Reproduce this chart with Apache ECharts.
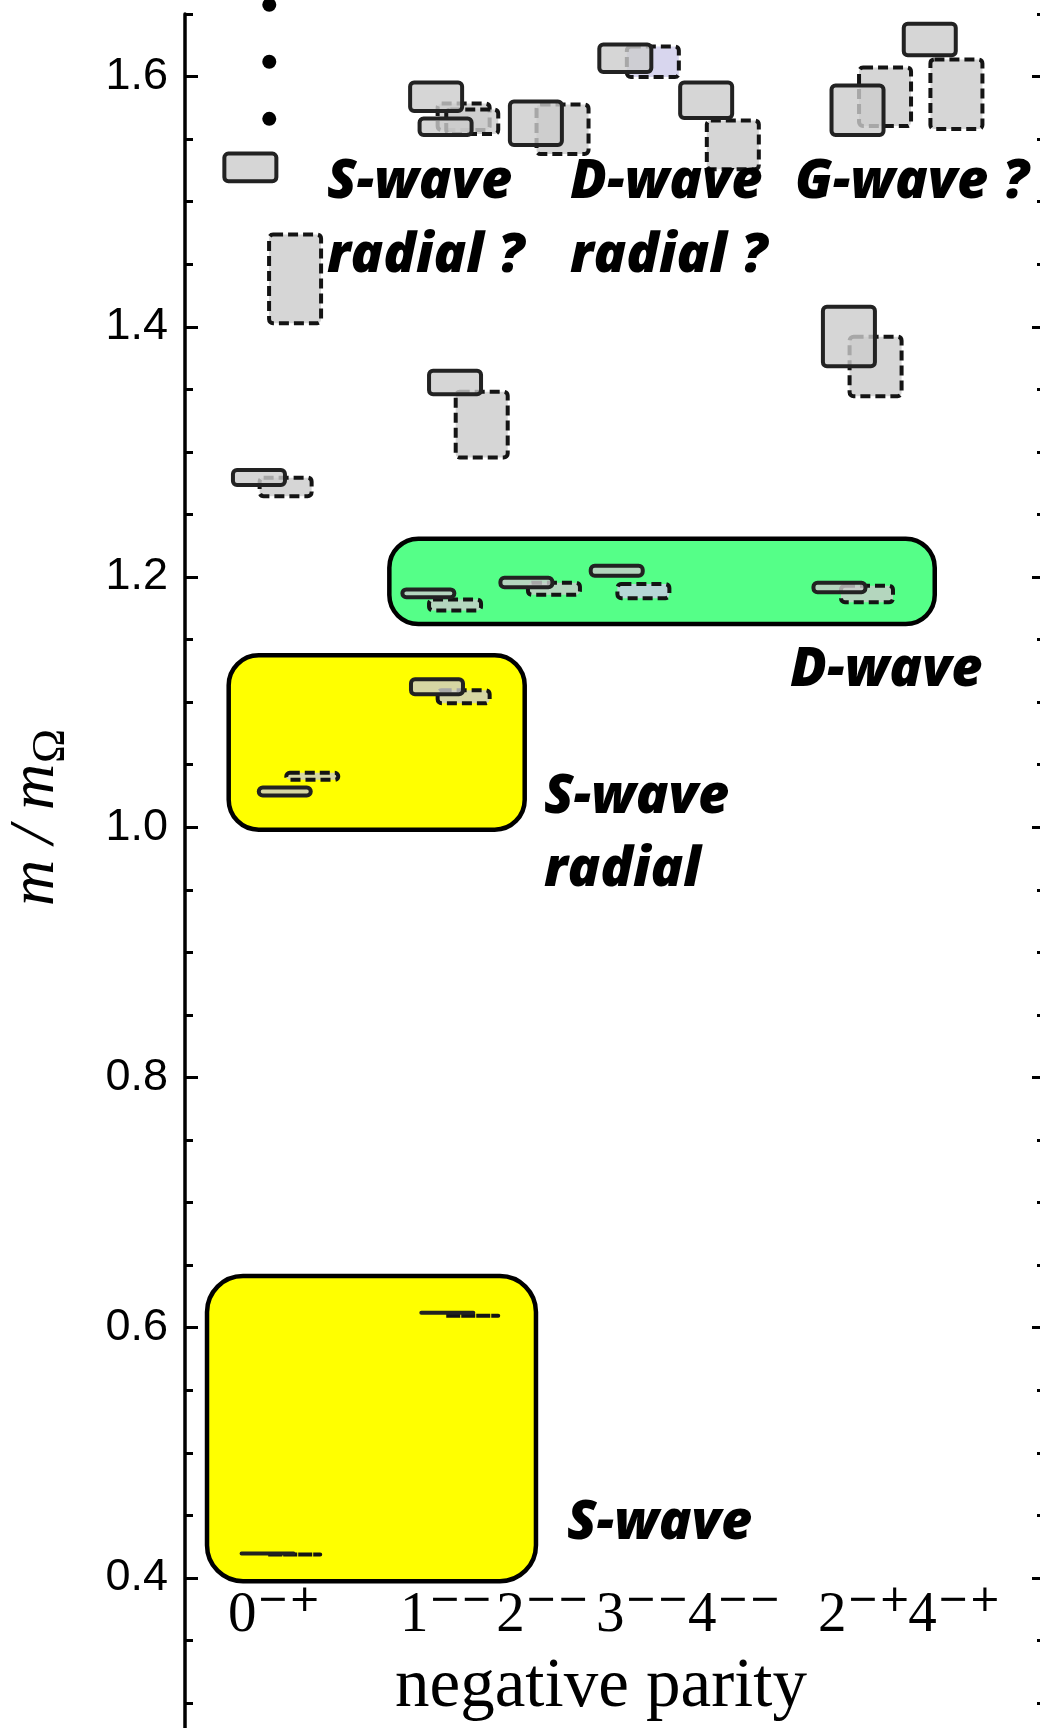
<!DOCTYPE html>
<html>
<head>
<meta charset="utf-8">
<script src="https://cdn.jsdelivr.net/npm/echarts@6/dist/echarts.min.js"></script>
<style>
  html, body { margin: 0; padding: 0; background: #ffffff; overflow: hidden; }
  #chart { width: 1040px; height: 1728px; }
</style>
</head>
<body>
<div id="chart"></div>
<script>
// J^PC channels with negative parity: base digit and C/P superscript
const channelDigits = ['0', '1', '2', '3', '4', '2', '4'];
const channelSupers = ['\u2212+', '\u2212\u2212', '\u2212\u2212', '\u2212\u2212', '\u2212\u2212', '\u2212+', '\u2212+'];
// where each channel label starts along the (hidden) x axis
const channelX = [0.50, 2.50, 3.62, 4.78, 5.85, 7.36, 8.41];

// Masses m/mΩ of the states: [channel, x, mass, error]
// first lattice (solid outline)
const solidStates = [
  [0, 0.96, 0.4195, 0],
  [0, 1.16, 1.0285, 0.0032],
  [0, 0.86, 1.2796, 0.0060],
  [0, 0.76, 1.5274, 0.0110],
  [1, 3.05, 0.6120, 0],
  [1, 2.93, 1.1122, 0.0060],
  [1, 2.83, 1.1870, 0.0031],
  [1, 3.14, 1.3555, 0.0094],
  [1, 2.92, 1.5838, 0.0114],
  [1, 3.03, 1.5598, 0.0066],
  [2, 3.97, 1.1956, 0.0038],
  [2, 4.08, 1.5626, 0.0174],
  [3, 5.02, 1.2050, 0.0040],
  [3, 5.12, 1.6146, 0.0110],
  [4, 6.06, 1.5810, 0.0142],
  [5, 7.61, 1.1916, 0.0038],
  [5, 7.72, 1.3923, 0.0238],
  [5, 7.82, 1.5730, 0.0198],
  [6, 8.66, 1.6297, 0.0126]
];
// second lattice (dashed outline)
const dashedStates = [
  [0, 1.27, 0.4186, 0],
  [0, 1.48, 1.0407, 0.0028],
  [0, 1.17, 1.2720, 0.0074],
  [0, 1.28, 1.4383, 0.0354],
  [1, 3.34, 0.6096, 0],
  [1, 3.24, 1.1043, 0.0052],
  [1, 3.14, 1.1776, 0.0044],
  [1, 3.45, 1.3218, 0.0263],
  [1, 3.24, 1.5678, 0.0106],
  [1, 3.34, 1.5638, 0.0098],
  [2, 4.29, 1.1906, 0.0048],
  [2, 4.39, 1.5578, 0.0198],
  [3, 5.33, 1.1887, 0.0056],
  [3, 5.44, 1.6118, 0.0122],
  [4, 6.37, 1.5454, 0.0194],
  [5, 7.93, 1.1864, 0.0066],
  [5, 8.03, 1.3683, 0.0238],
  [5, 8.14, 1.5838, 0.0234],
  [6, 8.97, 1.5858, 0.0278]
];

// vertical ellipsis above the 0-+ tower (more states)
const ellipsisX = [0.98, 0.98, 0.98];
const ellipsisY = [1.5662, 1.6118, 1.6573];

// multiplet groupings: [x0, x1, mass0, mass1]
const bands = [
  [0.256, 4.081, 0.3973, 0.6412],  // S-wave
  [0.508, 3.950, 0.9980, 1.1374],  // S-wave radial
  [2.376, 8.718, 1.1624, 1.2306]   // D-wave
];

const majorTicks = [0.4, 0.6, 0.8, 1.0, 1.2, 1.4, 1.6];
const minorTicks = [0.3, 0.35, 0.45, 0.5, 0.55, 0.65, 0.7, 0.75, 0.85, 0.9, 0.95,
  1.05, 1.1, 1.15, 1.25, 1.3, 1.35, 1.45, 1.5, 1.55, 1.65];

// ---- styling ----
const bandFill = ['#ffff00', '#ffff00', '#55ff88'];
const bandRadius = [36, 30, 29];
const boxFill = 'rgba(204,204,204,0.8)';
const boxFillAlt = 'rgba(206,204,234,0.8)';   // dashed 3-- states
const BOX_W = 52;
const LABEL_MASS = 0.3693;

function stateRenderer(dashed) {
  return function (params, api) {
    const ch = api.value(0), x = api.value(1), m = api.value(2), e = api.value(3);
    const top = api.coord([x, m + e]);
    const bot = api.coord([x, m - e]);
    const h = Math.max(bot[1] - top[1], 0.001);
    return {
      type: 'rect',
      shape: { x: top[0] - BOX_W / 2, y: top[1], width: BOX_W, height: h, r: 4 },
      style: {
        fill: dashed && ch === 3 ? boxFillAlt : boxFill,
        stroke: dashed ? '#141414' : '#222222',
        lineWidth: 4,
        lineDash: dashed ? [10, 5] : null
      }
    };
  };
}

function bandRenderer(params, api) {
  const p0 = api.coord([api.value(0), api.value(3)]);
  const p1 = api.coord([api.value(1), api.value(2)]);
  return {
    type: 'rect',
    shape: { x: p0[0], y: p0[1], width: p1[0] - p0[0], height: p1[1] - p0[1], r: bandRadius[params.dataIndex] },
    style: { fill: bandFill[params.dataIndex], stroke: '#000', lineWidth: 4.5 }
  };
}

function channelLabelRenderer(params, api) {
  const i = params.dataIndex;
  const p = api.coord([api.value(0), LABEL_MASS]);
  return {
    type: 'group',
    children: [
      { type: 'text', x: p[0], y: p[1],
        style: { text: channelDigits[i], fontFamily: 'Liberation Serif', fontSize: 57,
                 fill: '#000', align: 'left', verticalAlign: 'middle' } },
      { type: 'text', x: p[0] + 29, y: p[1] - 15,
        style: { text: channelSupers[i], fontFamily: 'DejaVu Sans', fontSize: 38,
                 fill: '#000', align: 'left', verticalAlign: 'middle' } }
    ]
  };
}

const annoFont = { fontFamily: 'Open Sans', fontWeight: 800, fontStyle: 'italic', fontSize: 54, fill: '#000' };
function anno(text, x, baseline) {
  return { type: 'text', x: x, y: baseline - 17, z: 100,
           style: Object.assign({ text: text, align: 'left', verticalAlign: 'middle' }, annoFont) };
}

const chart = echarts.init(document.getElementById('chart'), null, { renderer: 'canvas' });

chart.setOption({
  animation: false,
  backgroundColor: '#ffffff',
  grid: { left: 185, right: -5, top: 14, bottom: 0, containLabel: false, outerBoundsMode: 'none' },
  xAxis: { type: 'value', min: 0, max: 10, show: false },
  yAxis: [
    { // left: major ticks and labels
      type: 'value', position: 'left', min: 0.28, max: 1.65,
      splitLine: { show: false },
      axisLine: { show: true, lineStyle: { color: '#000', width: 3.5 } },
      axisTick: { show: true, inside: true, length: 13, customValues: majorTicks, lineStyle: { color: '#000', width: 3 } },
      axisLabel: { show: true, customValues: majorTicks, margin: 17, color: '#000',
                   fontFamily: 'Liberation Sans', fontSize: 45,
                   formatter: v => v.toFixed(1) }
    },
    { // left: minor ticks
      type: 'value', position: 'left', min: 0.28, max: 1.65,
      splitLine: { show: false }, axisLine: { show: false }, axisLabel: { show: false },
      axisTick: { show: true, inside: true, length: 8, customValues: minorTicks, lineStyle: { color: '#000', width: 3 } }
    },
    { // right: major ticks
      type: 'value', position: 'right', min: 0.28, max: 1.65,
      splitLine: { show: false }, axisLine: { show: false }, axisLabel: { show: false },
      axisTick: { show: true, inside: true, length: 13, customValues: majorTicks, lineStyle: { color: '#000', width: 3 } }
    },
    { // right: minor ticks
      type: 'value', position: 'right', min: 0.28, max: 1.65,
      splitLine: { show: false }, axisLine: { show: false }, axisLabel: { show: false },
      axisTick: { show: true, inside: true, length: 8, customValues: minorTicks, lineStyle: { color: '#000', width: 3 } }
    }
  ],
  series: [
    { type: 'custom', name: 'multiplets', z: 1, renderItem: bandRenderer,
      data: bands, encode: { x: [0, 1], y: [2, 3] }, silent: true },
    { type: 'custom', name: 'lattice B', z: 2, renderItem: stateRenderer(true),
      data: dashedStates, encode: { x: 1, y: 2 }, silent: true },
    { type: 'custom', name: 'lattice A', z: 3, renderItem: stateRenderer(false),
      data: solidStates, encode: { x: 1, y: 2 }, silent: true },
    { type: 'scatter', name: 'more states', z: 4, clip: false, symbol: 'circle', symbolSize: 14,
      itemStyle: { color: '#000', opacity: 1 }, silent: true,
      data: ellipsisY.map((y, i) => [ellipsisX[i], y]) },
    { type: 'custom', name: 'channels', z: 5, renderItem: channelLabelRenderer, silent: true,
      data: channelX.map((x, i) => [x, i]), encode: { x: 0 } }
  ],
  graphic: {
    elements: [
      // y-axis title m/mΩ
      { type: 'group', x: 58, y: 818, rotation: Math.PI / 2, children: [
        { type: 'text', x: -88, y: -21.6,
          style: { text: 'm / m', fontFamily: 'Liberation Serif', fontStyle: 'italic', fontSize: 64,
                   fill: '#000', align: 'left', verticalAlign: 'middle' } },
        { type: 'text', x: 55, y: -6,
          style: { text: '\u03A9', fontFamily: 'Liberation Serif', fontSize: 46,
                   fill: '#000', align: 'left', verticalAlign: 'middle' } }
      ] },
      // x-axis title
      { type: 'text', x: 601, y: 1688,
        style: { text: 'negative parity', fontFamily: 'Liberation Serif', fontSize: 69,
                 fill: '#000', align: 'center', verticalAlign: 'middle' } },
      anno('S-wave', 567, 1541),
      anno('S-wave', 544, 815),
      anno('radial', 544, 888),
      anno('D-wave', 790, 688),
      anno('S-wave', 327, 200),
      anno('radial ?', 327, 274),
      anno('D-wave', 570, 200),
      anno('radial ?', 570, 274),
      anno('G-wave ?', 795, 200)
    ]
  }
});
</script>
</body>
</html>
